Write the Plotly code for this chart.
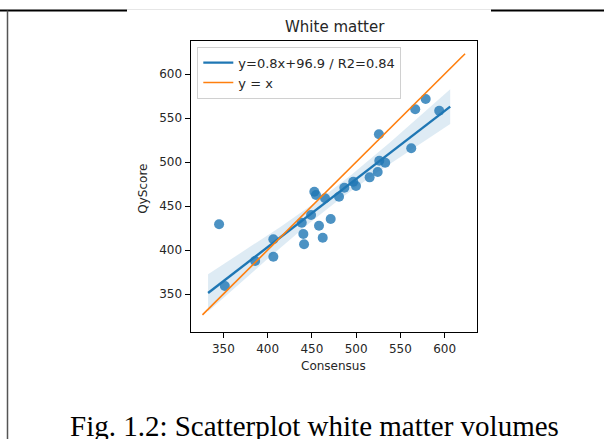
import numpy as np
import plotly.graph_objects as go

# ---- data ----
consensus = [345.1, 351.6, 385.8, 406.4, 406.4, 438.5, 440.3, 441.1, 449.0, 452.7,
             454.6, 458.0, 462.2, 464.8, 471.2, 480.6, 486.6, 496.7, 499.8, 515.2,
             524.3, 526.1, 532.8, 525.7, 562.2, 566.7, 578.5, 593.8]
qyscore = [429.2, 359.1, 387.5, 412.2, 392.4, 431.0, 418.2, 406.5, 439.8, 466.3,
           462.5, 427.6, 414.0, 458.8, 435.2, 460.6, 470.8, 477.6, 472.7, 482.6,
           488.6, 501.5, 499.2, 531.5, 515.6, 559.9, 571.6, 558.3]
identity_range = [326.3, 623.0]
x_ticks = [350, 400, 450, 500, 550, 600]
y_ticks = [350, 400, 450, 500, 550, 600]
reg_label = "y=0.8x+96.9 / R2=0.84"
identity_label = "y = x"
title_text = "White matter"
caption_text = "Fig. 1.2: Scatterplot white matter volumes"

# ---- regression and 95% CI band ----
x = np.array(consensus)
y = np.array(qyscore)
n = len(x)
slope, intercept = np.polyfit(x, y, 1)
span = x.max() - x.min()
xs = np.linspace(x.min() - 0.05 * span, x.max() + 0.05 * span, 100)
ys = slope * xs + intercept
resid = y - (slope * x + intercept)
s = np.sqrt(np.sum(resid ** 2) / (n - 2))
sxx = np.sum((x - x.mean()) ** 2)
t_crit = 2.056
half = t_crit * s * np.sqrt(1 / n + (xs - x.mean()) ** 2 / sxx)

W, H = 604, 439
def px(v):
    return v / W
def py(v):
    return 1 - v / H

BLUE = "#1f77b4"
ORANGE = "#ff7f0e"
FONT = "DejaVu Sans"
TXT = "#262626"

fig = go.Figure()
fig.add_trace(go.Scatter(x=np.concatenate([xs, xs[::-1]]),
                         y=np.concatenate([ys + half, (ys - half)[::-1]]),
                         fill="toself", fillcolor="rgba(31,119,180,0.15)",
                         line=dict(width=0), mode="lines", showlegend=False,
                         hoverinfo="skip"))
fig.add_trace(go.Scatter(x=consensus, y=qyscore, mode="markers",
                         marker=dict(color=BLUE, size=10, opacity=0.8, line=dict(width=0)),
                         showlegend=False))
fig.add_trace(go.Scatter(x=xs, y=ys, mode="lines", name=reg_label,
                         line=dict(color=BLUE, width=2.4)))
fig.add_trace(go.Scatter(x=identity_range, y=identity_range, mode="lines",
                         name=identity_label, line=dict(color=ORANGE, width=1.6)))

axis_common = dict(showline=True, mirror=True, linecolor="black", linewidth=1,
                   ticks="outside", ticklen=5, tickcolor="black", tickwidth=1,
                   showgrid=False, zeroline=False,
                   tickfont=dict(family=FONT, size=12, color=TXT))
fig.update_xaxes(range=[312.8, 636.5], tickvals=x_ticks,
                 domain=[px(190.5), px(477)], **axis_common)
fig.update_yaxes(range=[306.5, 638.1], tickvals=y_ticks,
                 domain=[py(332.3), py(40.5)], **axis_common)

annotations = [
    dict(text=title_text, x=px(334.7), y=py(27.5), xref="paper", yref="paper",
         showarrow=False, xanchor="center", yanchor="middle",
         font=dict(family=FONT, size=15, color=TXT)),
    dict(text="Consensus", x=px(333.3), y=py(366), xref="paper", yref="paper",
         showarrow=False, xanchor="center", yanchor="middle",
         font=dict(family=FONT, size=12, color=TXT)),
    dict(text="QyScore", x=px(142.7), y=py(189), xref="paper", yref="paper",
         showarrow=False, xanchor="center", yanchor="middle", textangle=-90,
         font=dict(family=FONT, size=12, color=TXT)),
    dict(text=caption_text, x=px(314), y=py(426), xref="paper", yref="paper",
         showarrow=False, xanchor="center", yanchor="middle",
         font=dict(family="Liberation Serif", size=29, color="black")),
]

shapes = [
    dict(type="line", xref="paper", yref="paper", x0=0, x1=px(127), y0=py(10.5), y1=py(10.5),
         line=dict(color="black", width=2)),
    dict(type="line", xref="paper", yref="paper", x0=px(491), x1=1, y0=py(10.5), y1=py(10.5),
         line=dict(color="black", width=2)),
    dict(type="line", xref="paper", yref="paper", x0=px(127), x1=px(491), y0=py(9.5), y1=py(9.5),
         line=dict(color="#e6e6e6", width=1)),
    dict(type="line", xref="paper", yref="paper", x0=px(7.5), x1=px(7.5), y0=py(10.5), y1=0,
         line=dict(color="#555555", width=1.5)),
]

fig.update_layout(
    width=W, height=H, margin=dict(l=0, r=0, t=0, b=0),
    paper_bgcolor="white", plot_bgcolor="white",
    showlegend=True,
    legend=dict(x=px(197.3), y=py(46.7), xanchor="left", yanchor="top",
                bgcolor="rgba(255,255,255,0.8)", bordercolor="#d0d0d0", borderwidth=1,
                font=dict(family=FONT, size=13, color=TXT),
                tracegroupgap=0, itemwidth=30),
    annotations=annotations, shapes=shapes,
)

fig.write_html("out.html")
